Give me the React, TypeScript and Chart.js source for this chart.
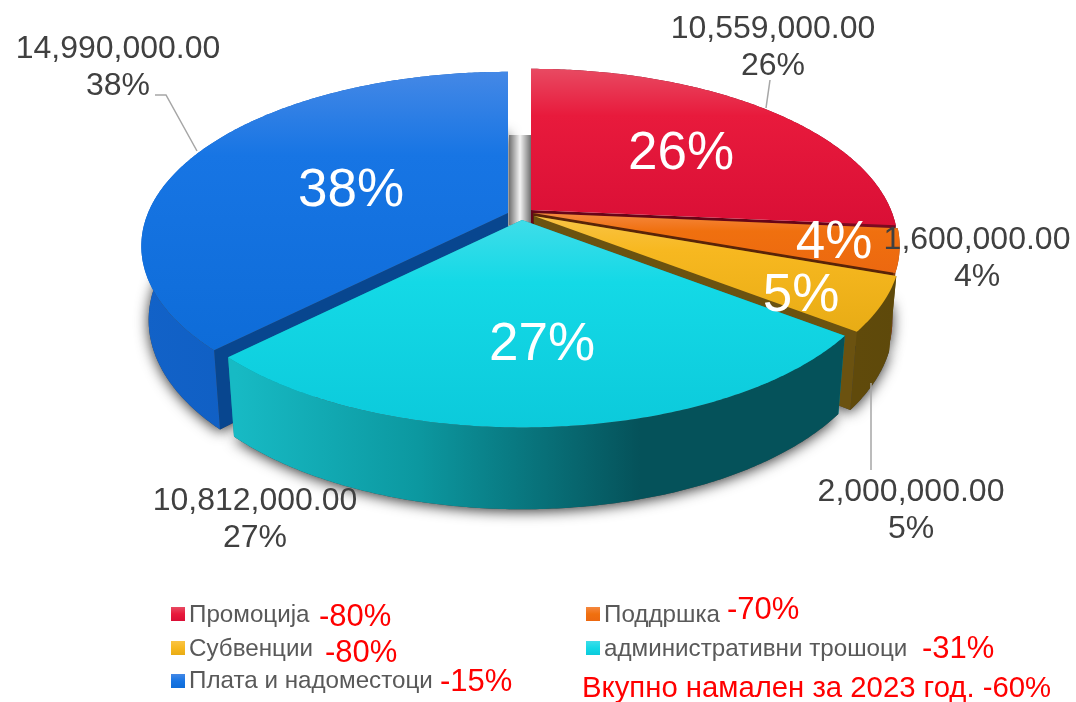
import React, { useEffect, useRef } from "react";
import { Chart, registerables } from "chart.js";

Chart.register(...registerables);

// ---- data ----
const categories = ["Промоција", "Поддршка", "Субвенции", "административни трошоци", "Плата и надоместоци"];
const values = [10559000, 1600000, 2000000, 10812000, 14990000];
const changes = ["-80%", "-70%", "-80%", "-31%", "-15%"];
const totalNote = "Вкупно намален за 2023 год. -60%";

// ---- styling ----
const topGradients = [
  ["#E84A62", "#E81A3C", "#DA0F36"],
  ["#F5883F", "#F0700F", "#EC6810"],
  ["#F9C445", "#F7B820", "#E8AC15"],
  ["#3FDDE9", "#14D9E6", "#0CCADB"],
  ["#4488E6", "#1775E4", "#0E6CD8"],
];
const wallColors = [
  ["#7A0A20", "#7A0A20"],
  ["#8A3B08", "#8A3B08"],
  ["#604A0B", "#5E490B"],
  ["#17BAC4", "#05525A"],
  ["#1262C8", "#0A58B8"],
];
const cutColors = ["#680418", "#5A2408", "#6B5210", "#0A8A92", "#08468F"];
const apexes = [
  { x: 531, y: 210 },
  { x: 533, y: 213 },
  { x: 534, y: 216 },
  { x: 522, y: 220 },
  { x: 508, y: 213 },
];
const innerPos = [
  { x: 681, y: 154 },
  { x: 834, y: 243 },
  { x: 801, y: 296 },
  { x: 542, y: 345 },
  { x: 351, y: 191 },
];
const outerPos = [
  { x: 773, y: 38 },
  { x: 977, y: 249 },
  { x: 911, y: 501 },
  { x: 255, y: 510 },
  { x: 118, y: 58 },
];
const legendPos = [
  { x: 171, y: 607, tx: 189, ty: 622, cx: 319, cy: 626 },
  { x: 586, y: 607, tx: 604, ty: 622, cx: 727, cy: 619 },
  { x: 171, y: 641, tx: 189, ty: 656, cx: 325, cy: 662 },
  { x: 586, y: 641, tx: 604, ty: 656, cx: 922, cy: 658 },
  { x: 171, y: 674, tx: 189, ty: 688, cx: 440, cy: 691 },
];
const leaders = [
  [[770, 80], [766, 108]],
  [[871, 383], [871, 470]],
  [[155, 95], [166, 95], [197, 151]],
];

const R = 360;
const TR = 168;
const K = 0.19;
const BOTTOM_SCALE = 0.98;

type Pt = [number, number];

function topPt(ap: { x: number; y: number }, a: number): Pt {
  const X = Math.cos(a), Y = Math.sin(a);
  const w = 1 / (1 - K * Y);
  return [ap.x + R * X * w, ap.y + TR * Y * w];
}
function botPt(ap: { x: number; y: number }, a: number | null): Pt {
  if (a === null) return [ap.x, ap.y + 72];
  const X = Math.cos(a), Y = Math.sin(a);
  const w = 1 / (1 - K * Y);
  return [ap.x + R * X * w * BOTTOM_SCALE, ap.y + TR * Y * w * BOTTOM_SCALE + 72 + 14 * Y];
}
function arcAngles(s: number, e: number): number[] {
  const n = Math.max(2, Math.ceil((e - s) / 0.01));
  const out: number[] = [];
  for (let i = 0; i <= n; i++) out.push(s + ((e - s) * i) / n);
  return out;
}
function poly(ctx: CanvasRenderingContext2D, pts: Pt[]) {
  ctx.beginPath();
  pts.forEach((p, i) => (i ? ctx.lineTo(p[0], p[1]) : ctx.moveTo(p[0], p[1])));
  ctx.closePath();
}

const pie3d = {
  id: "pie3d",
  beforeDraw(chart: any) {
    const { ctx, width, height } = chart;
    ctx.save();
    ctx.fillStyle = "#ffffff";
    ctx.fillRect(0, 0, width, height);
    ctx.restore();
  },
  beforeDatasetsDraw(chart: any) {
    const ctx: CanvasRenderingContext2D = chart.ctx;
    const arcs = chart.getDatasetMeta(0).data;
    ctx.save();

    // soft shadow under the body
    [4, 3, 2, 1].forEach((i) => {
      const ap = apexes[i];
      const { startAngle: s, endAngle: e } = arcs[i];
      const as = arcAngles(s, e);
      ctx.save();
      ctx.shadowColor = "rgba(0,0,0,0.8)";
      ctx.shadowBlur = 14;
      ctx.shadowOffsetY = 2;
      ctx.fillStyle = "#444";
      poly(ctx, [botPt(ap, null), ...as.map((a) => botPt(ap, a))]);
      ctx.fill();
      ctx.restore();
    });

    // view through the gap between the far slices
    const g = ctx.createLinearGradient(509, 0, 531, 0);
    g.addColorStop(0, "#707070");
    g.addColorStop(0.5, "#f4f4f4");
    g.addColorStop(1, "#707070");
    ctx.fillStyle = g;
    ctx.fillRect(509, 135, 22, 90);

    [0, 1, 2, 4, 3].forEach((i) => {
      const ap = apexes[i];
      const { startAngle: s, endAngle: e } = arcs[i];
      const as = arcAngles(s, e);
      const top = as.map((a) => topPt(ap, a));
      const bot = as.map((a) => botPt(ap, a));

      // cut faces
      ctx.fillStyle = cutColors[i];
      poly(ctx, [[ap.x, ap.y], topPt(ap, s), botPt(ap, s), botPt(ap, null)]);
      ctx.fill();
      poly(ctx, [[ap.x, ap.y], topPt(ap, e), botPt(ap, e), botPt(ap, null)]);
      ctx.fill();

      // outer wall
      const xs = top.map((p) => p[0]);
      const wg = ctx.createLinearGradient(
        i === 3 ? 236 : Math.min(...xs),
        0,
        i === 3 ? 640 : Math.max(...xs),
        0
      );
      wg.addColorStop(0, wallColors[i][0]);
      if (i === 3) wg.addColorStop(0.45, "#0C98A0");
      wg.addColorStop(1, wallColors[i][1]);
      ctx.fillStyle = wg;
      poly(ctx, [...top, ...bot.slice().reverse()]);
      ctx.fill();

      // top face
      const ys = [...top.map((p) => p[1]), ap.y];
      const y0 = Math.min(...ys), y1 = Math.max(...ys);
      const tg = ctx.createLinearGradient(0, y0, 0, y1);
      tg.addColorStop(0, topGradients[i][0]);
      tg.addColorStop(0.3, topGradients[i][1]);
      tg.addColorStop(1, topGradients[i][2]);
      ctx.fillStyle = tg;
      poly(ctx, [[ap.x, ap.y], ...top]);
      ctx.fill();
    });
    ctx.restore();
    return false;
  },
  afterDraw(chart: any) {
    const ctx: CanvasRenderingContext2D = chart.ctx;
    const total = values.reduce((a, b) => a + b, 0);
    const pct = values.map((v) => `${Math.round((v / total) * 100)}%`);
    const fmt = (v: number) =>
      v.toLocaleString("en-US", { minimumFractionDigits: 2, maximumFractionDigits: 2 });
    const F = '"Liberation Sans", Arial, sans-serif';
    ctx.save();

    // leader lines
    ctx.strokeStyle = "#A6A6A6";
    ctx.lineWidth = 1.5;
    leaders.forEach((l) => {
      ctx.beginPath();
      l.forEach((p, i) => (i ? ctx.lineTo(p[0], p[1]) : ctx.moveTo(p[0], p[1])));
      ctx.stroke();
    });

    // outside labels
    ctx.fillStyle = "#404040";
    ctx.font = `32px ${F}`;
    ctx.textAlign = "center";
    ctx.textBaseline = "alphabetic";
    values.forEach((v, i) => {
      ctx.fillText(fmt(v), outerPos[i].x, outerPos[i].y);
      ctx.fillText(pct[i], outerPos[i].x, outerPos[i].y + 37);
    });

    // labels on slices
    ctx.fillStyle = "#ffffff";
    ctx.font = `53px ${F}`;
    ctx.textBaseline = "middle";
    values.forEach((_, i) => ctx.fillText(pct[i], innerPos[i].x, innerPos[i].y));

    // legend
    ctx.textAlign = "left";
    ctx.textBaseline = "alphabetic";
    categories.forEach((c, i) => {
      const l = legendPos[i];
      const sg = ctx.createLinearGradient(0, l.y, 0, l.y + 14);
      sg.addColorStop(0, topGradients[i][0]);
      sg.addColorStop(0.5, topGradients[i][1]);
      sg.addColorStop(1, topGradients[i][2]);
      ctx.fillStyle = sg;
      ctx.fillRect(l.x, l.y, 14, 14);
      ctx.fillStyle = "#595959";
      ctx.font = `24.2px ${F}`;
      ctx.fillText(c, l.tx, l.ty);
      ctx.fillStyle = "#FF0000";
      ctx.font = `31px ${F}`;
      ctx.fillText(changes[i], l.cx, l.cy);
    });
    ctx.fillStyle = "#FF0000";
    ctx.font = `29.3px ${F}`;
    ctx.fillText(totalNote, 582, 697);
    ctx.restore();
  },
};

export default function App() {
  const ref = useRef<HTMLCanvasElement>(null);
  useEffect(() => {
    const chart = new Chart(ref.current as HTMLCanvasElement, {
      type: "pie",
      data: {
        labels: categories,
        datasets: [{ data: values, backgroundColor: topGradients.map((g) => g[1]), borderWidth: 0 }],
      },
      options: {
        responsive: false,
        animation: false,
        plugins: { legend: { display: false }, tooltip: { enabled: false } },
      },
      plugins: [pie3d],
    } as any);
    return () => chart.destroy();
  }, []);
  return (
    <canvas
      ref={ref}
      width={1076}
      height={702}
      style={{ position: "absolute", left: 0, top: 0, display: "block" }}
    />
  );
}
